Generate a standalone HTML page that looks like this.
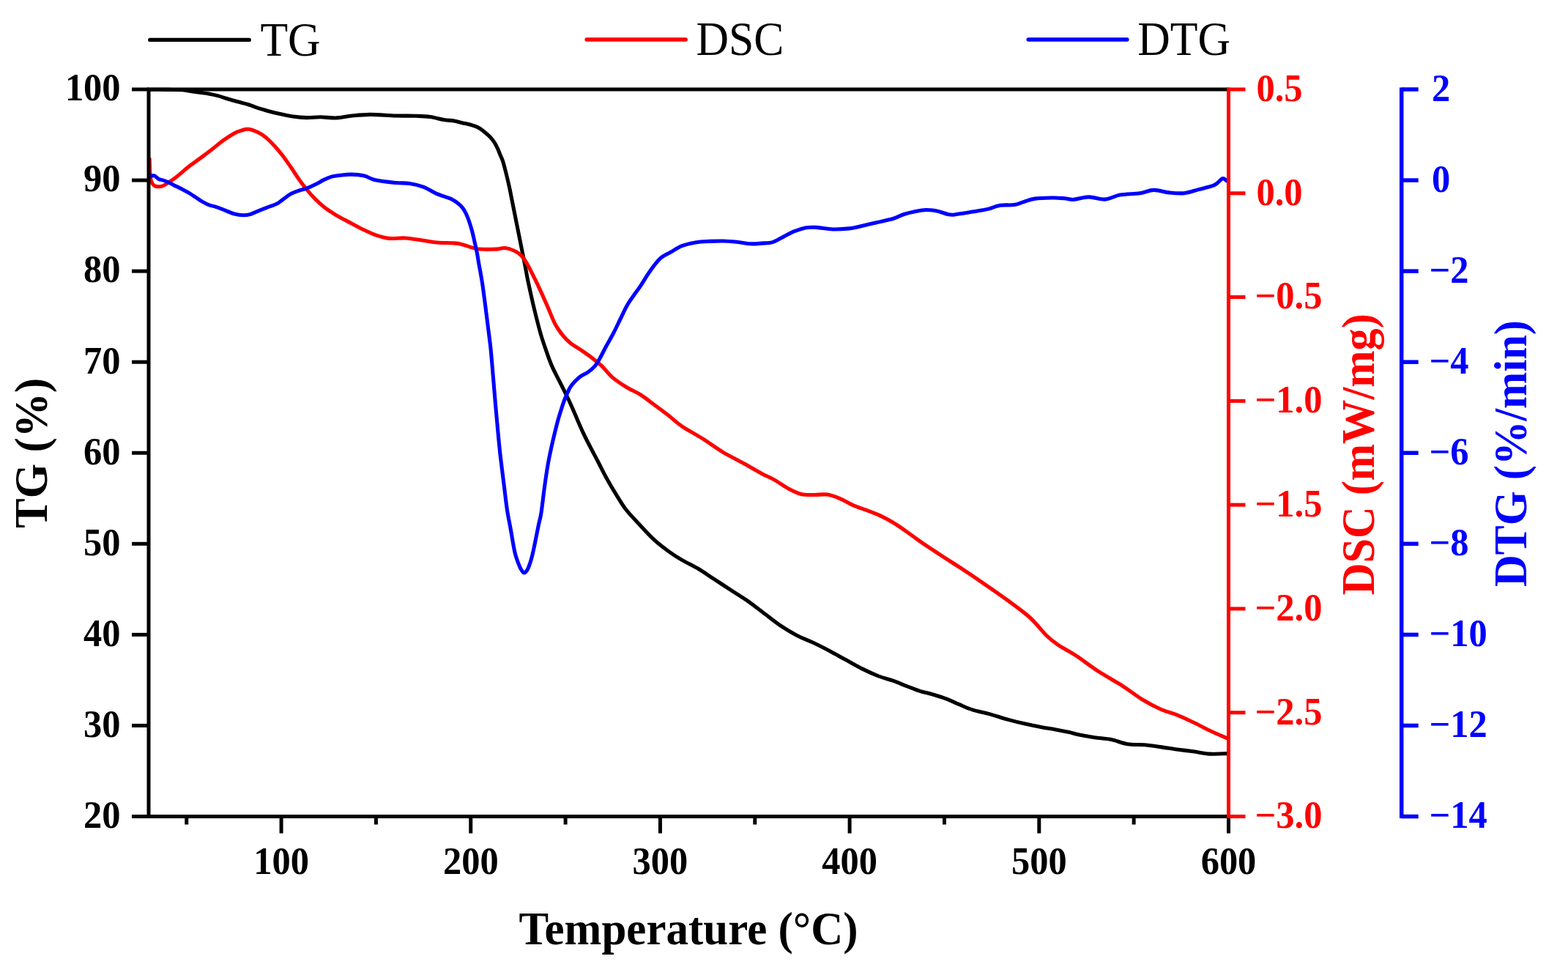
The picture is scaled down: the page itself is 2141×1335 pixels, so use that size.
<!DOCTYPE html><html><head><meta charset="utf-8"><title>TG DSC DTG</title><style>html,body{margin:0;padding:0;background:#fff;overflow:hidden}svg{display:block;filter:blur(0.45px)}text{font-family:"Liberation Serif","Times New Roman",serif}</style></head><body>
<svg width="2141" height="1335" viewBox="0 0 2141 1335">
<rect width="2141" height="1335" fill="#fff"/>
<g stroke-width="5.4" stroke-linecap="round">
<line x1="204.8" y1="54.4" x2="340.2" y2="54.4" stroke="#000"/>
<line x1="801.1" y1="54" x2="936.2" y2="54" stroke="#f00"/>
<line x1="1404.2" y1="54" x2="1538.9" y2="54" stroke="#00f"/>
</g>
<g font-size="61.7" fill="#000">
<text transform="translate(355.4,75.6) scale(1,1.045)">TG</text>
<text transform="translate(950.5,75.3) scale(1,1.045)">DSC</text>
<text transform="translate(1553.3,75.3) scale(1,1.045)">DTG</text>
</g>
<g fill="none" stroke-width="5.1" stroke-linejoin="round" stroke-linecap="round">
<path d="M203.0,122.3 C207.5,122.3 222.3,122.3 230.0,122.4 C237.7,122.5 243.1,122.3 249.0,122.8 C254.9,123.3 261.1,124.7 265.4,125.3 C269.7,125.9 271.7,126.1 275.0,126.5 C278.3,126.9 281.2,127.2 285.0,127.9 C288.8,128.6 293.7,129.7 298.0,130.9 C302.3,132.1 306.6,133.7 311.0,135.0 C315.4,136.3 319.5,137.5 324.3,138.8 C329.1,140.1 335.8,141.7 340.0,143.0 C344.2,144.3 345.7,145.3 349.8,146.7 C353.9,148.1 359.8,149.8 364.8,151.2 C369.8,152.6 374.1,153.7 380.0,155.0 C385.9,156.3 393.6,158.1 400.0,159.0 C406.4,159.9 412.4,160.5 418.7,160.6 C424.9,160.7 430.6,159.8 437.5,159.8 C444.4,159.9 453.0,161.2 459.9,160.9 C466.8,160.7 471.2,159.1 478.7,158.3 C486.2,157.6 494.6,156.5 504.9,156.4 C515.2,156.3 529.8,157.7 540.4,158.0 C551.0,158.3 560.7,158.0 568.5,158.3 C576.3,158.6 581.0,158.7 587.3,159.6 C593.5,160.5 600.5,162.6 606.0,163.5 C611.5,164.4 615.8,164.4 620.0,165.1 C624.2,165.8 627.5,166.8 631.2,167.7 C635.0,168.6 638.8,169.2 642.5,170.3 C646.2,171.4 650.5,172.8 653.7,174.5 C656.9,176.2 659.4,178.4 661.9,180.4 C664.4,182.4 666.6,184.2 668.7,186.4 C670.8,188.7 673.0,191.3 674.7,193.9 C676.5,196.5 677.8,199.3 679.2,202.2 C680.6,205.1 681.7,208.2 682.9,211.2 C684.1,214.2 685.2,215.5 686.6,220.0 C688.0,224.5 689.9,232.0 691.4,238.0 C692.9,244.0 694.3,250.0 695.6,256.0 C696.9,262.0 698.0,268.0 699.2,274.0 C700.4,280.0 701.6,286.0 702.8,292.0 C704.0,298.0 705.2,304.0 706.4,310.0 C707.6,316.0 708.8,321.9 710.0,327.9 C711.2,333.9 712.4,339.9 713.6,345.9 C714.8,351.9 716.1,358.2 717.2,363.9 C718.3,369.6 719.0,374.0 720.2,380.0 C721.4,386.0 723.0,393.2 724.5,400.0 C726.0,406.8 727.0,411.9 729.3,421.0 C731.5,430.1 735.3,445.5 738.0,454.9 C740.7,464.3 742.7,469.9 745.3,477.4 C747.9,484.9 750.4,492.4 753.7,499.9 C757.0,507.4 761.6,515.8 764.9,522.4 C768.2,529.0 770.8,533.9 773.5,539.5 C776.2,545.1 778.6,550.2 781.1,555.9 C783.6,561.6 786.2,567.9 788.8,573.9 C791.4,579.9 794.0,585.9 796.8,591.9 C799.6,597.9 802.6,603.7 805.8,609.8 C808.9,615.9 812.0,621.5 815.7,628.5 C819.4,635.5 823.6,644.4 827.8,652.0 C832.0,659.6 836.4,667.1 840.9,674.3 C845.4,681.5 849.1,688.3 854.5,695.3 C859.9,702.3 866.9,709.3 873.4,716.3 C879.9,723.3 887.1,731.2 893.6,737.2 C900.1,743.2 906.1,747.7 912.4,752.2 C918.6,756.7 924.4,760.5 931.1,764.4 C937.8,768.3 945.2,771.5 952.5,775.8 C959.8,780.1 967.4,785.5 974.9,790.4 C982.4,795.3 989.9,800.2 997.4,805.1 C1004.9,810.0 1012.4,814.5 1019.9,819.7 C1027.4,824.9 1034.9,830.9 1042.4,836.5 C1049.9,842.1 1057.3,848.3 1064.8,853.4 C1072.3,858.5 1079.8,863.0 1087.3,866.9 C1094.8,870.8 1102.3,873.5 1109.8,877.0 C1117.3,880.5 1124.7,884.3 1132.2,888.2 C1139.7,892.1 1147.2,896.5 1154.7,900.6 C1162.2,904.7 1169.7,909.2 1177.2,912.9 C1184.7,916.6 1192.6,920.2 1199.7,923.0 C1206.8,925.8 1213.6,927.1 1220.0,929.4 C1226.4,931.7 1232.0,934.3 1238.0,936.6 C1244.0,938.9 1250.0,941.5 1256.0,943.4 C1262.0,945.3 1267.9,946.2 1273.9,948.0 C1279.9,949.8 1285.9,951.6 1291.9,953.9 C1297.9,956.2 1303.9,959.2 1309.9,961.7 C1315.9,964.2 1320.9,966.7 1327.9,968.9 C1334.9,971.1 1343.9,972.7 1351.9,974.9 C1359.9,977.1 1367.8,979.9 1375.8,982.1 C1383.8,984.3 1391.8,986.3 1399.8,988.1 C1407.8,989.9 1416.8,991.6 1423.8,992.9 C1430.8,994.2 1435.8,994.8 1441.8,995.9 C1447.8,997.0 1454.7,998.4 1459.8,999.5 C1464.9,1000.6 1466.6,1001.6 1472.4,1002.8 C1478.2,1004.0 1487.3,1005.6 1494.8,1006.7 C1502.3,1007.8 1509.8,1008.0 1517.3,1009.5 C1524.8,1011.0 1532.2,1014.5 1539.7,1015.7 C1547.2,1016.9 1554.6,1016.1 1562.1,1016.8 C1569.6,1017.4 1577.0,1018.6 1584.5,1019.6 C1592.0,1020.6 1599.5,1022.0 1607.0,1023.0 C1614.5,1024.0 1621.9,1024.8 1629.4,1025.8 C1636.9,1026.8 1644.0,1028.6 1651.8,1029.1 C1659.6,1029.6 1672.0,1028.7 1676.0,1028.6" stroke="#000"/>
<path d="M204.2,217.0 C204.3,219.5 204.4,227.5 204.6,232.0 C204.8,236.5 205.0,240.9 205.6,244.0 C206.2,247.1 207.0,248.9 208.0,250.5 C209.0,252.1 209.9,253.1 211.5,253.8 C213.1,254.5 215.6,254.9 217.5,254.8 C219.4,254.8 221.1,254.3 223.0,253.5 C224.9,252.7 225.9,252.0 229.1,249.8 C232.3,247.6 237.4,244.2 242.2,240.4 C247.0,236.7 252.4,231.6 257.9,227.3 C263.3,223.1 269.6,218.9 274.9,214.9 C280.2,210.9 284.9,207.4 289.9,203.5 C294.9,199.6 299.9,195.2 304.9,191.6 C309.9,188.0 315.7,184.2 319.9,181.9 C324.1,179.6 326.8,178.9 330.0,178.0 C333.2,177.1 335.2,175.8 339.0,176.3 C342.8,176.8 348.4,178.8 352.5,180.8 C356.6,182.8 360.0,185.0 363.7,188.1 C367.4,191.2 371.1,195.2 374.9,199.3 C378.6,203.4 382.4,207.9 386.2,212.8 C389.9,217.7 393.6,223.1 397.4,228.5 C401.1,233.9 404.9,240.2 408.7,245.4 C412.4,250.7 416.2,255.5 419.9,260.0 C423.6,264.5 427.4,268.6 431.1,272.4 C434.9,276.1 438.6,279.5 442.4,282.5 C446.1,285.5 449.9,287.9 453.6,290.3 C457.3,292.7 460.4,294.7 464.8,297.1 C469.2,299.6 475.2,302.5 480.0,305.0 C484.8,307.5 488.2,309.6 493.6,312.2 C499.0,314.8 506.1,318.5 512.4,320.7 C518.6,322.9 524.2,324.7 531.1,325.4 C538.0,326.1 545.8,324.5 553.6,325.0 C561.4,325.5 570.7,327.2 577.9,328.2 C585.1,329.2 589.6,330.4 596.6,331.0 C603.6,331.6 614.4,331.5 620.0,331.9 C625.6,332.3 626.4,332.5 630.0,333.4 C633.6,334.2 637.8,335.9 641.4,337.0 C645.0,338.1 648.1,339.1 651.4,339.7 C654.7,340.2 657.9,340.2 661.3,340.3 C664.7,340.4 668.9,340.3 672.0,340.2 C675.1,340.1 677.1,340.2 680.0,339.9 C682.9,339.6 686.0,338.1 689.6,338.5 C693.2,338.9 698.0,340.4 701.6,342.0 C705.2,343.6 708.4,345.7 711.2,348.3 C714.0,350.9 716.0,354.0 718.4,357.9 C720.8,361.8 722.9,365.9 725.9,371.9 C728.9,377.9 732.9,385.9 736.6,393.8 C740.3,401.7 744.4,411.0 747.9,419.0 C751.4,427.0 754.4,435.6 757.8,442.0 C761.2,448.4 764.8,453.3 768.3,457.7 C771.8,462.1 774.4,464.7 778.8,468.2 C783.2,471.7 789.4,475.2 794.5,478.7 C799.6,482.2 804.7,485.7 809.2,489.2 C813.8,492.7 817.2,495.3 821.8,499.7 C826.3,504.1 830.9,510.6 836.5,515.4 C842.1,520.2 849.0,524.6 855.4,528.5 C861.8,532.4 868.5,535.0 874.9,539.0 C881.3,543.0 887.4,548.2 893.6,552.8 C899.9,557.4 906.1,562.0 912.4,566.8 C918.6,571.6 923.3,576.5 931.1,581.8 C938.9,587.1 949.8,592.8 959.2,598.7 C968.6,604.6 977.9,611.8 987.3,617.4 C996.7,623.0 1006.6,627.6 1015.4,632.4 C1024.2,637.2 1032.9,642.6 1040.0,646.4 C1047.1,650.2 1052.0,652.0 1058.0,655.4 C1064.0,658.8 1070.0,663.5 1076.0,666.7 C1082.0,669.9 1087.9,673.0 1093.9,674.5 C1099.9,676.0 1105.9,675.4 1111.9,675.5 C1117.9,675.6 1123.9,674.2 1129.9,675.1 C1135.9,676.0 1141.9,678.6 1147.9,681.1 C1153.9,683.6 1159.8,687.5 1165.8,690.1 C1171.8,692.7 1177.8,694.4 1183.8,696.7 C1189.8,699.0 1195.8,701.1 1201.8,703.9 C1207.8,706.7 1213.8,709.9 1219.8,713.5 C1225.8,717.1 1231.7,721.3 1237.7,725.5 C1243.7,729.7 1249.7,734.4 1255.7,738.6 C1261.7,742.8 1268.0,746.8 1273.7,750.6 C1279.4,754.4 1283.7,757.3 1290.0,761.4 C1296.3,765.5 1302.7,769.4 1311.5,775.2 C1320.3,781.0 1332.4,789.1 1342.9,796.3 C1353.4,803.5 1363.9,810.7 1374.4,818.4 C1384.9,826.1 1396.6,834.2 1405.8,842.5 C1415.0,850.8 1422.8,861.6 1429.4,868.0 C1436.0,874.4 1438.6,876.1 1445.2,880.6 C1451.8,885.1 1459.6,888.7 1468.8,894.7 C1478.0,900.7 1489.7,909.9 1500.2,916.7 C1510.7,923.5 1521.7,929.2 1531.7,935.6 C1541.7,942.0 1551.2,949.6 1560.0,955.0 C1568.8,960.4 1576.7,964.5 1584.5,968.0 C1592.3,971.5 1599.5,972.9 1607.0,975.9 C1614.5,978.9 1621.9,982.5 1629.4,986.0 C1636.9,989.5 1644.0,993.5 1651.8,997.2 C1659.6,1000.9 1672.0,1006.2 1676.0,1008.0" stroke="#f00"/>
<path d="M204.5,238.5 C204.8,238.8 205.5,240.2 206.5,240.4 C207.5,240.6 208.9,239.1 210.7,239.8 C212.4,240.5 215.2,243.6 217.0,244.6 C218.8,245.6 219.2,244.9 221.2,245.6 C223.2,246.2 226.5,247.3 229.1,248.5 C231.7,249.7 233.7,250.9 237.0,252.6 C240.3,254.2 245.5,256.6 249.0,258.4 C252.5,260.2 255.0,261.6 258.0,263.4 C261.0,265.2 264.0,267.2 267.0,269.2 C270.0,271.1 273.0,273.4 276.0,275.1 C279.0,276.8 281.9,278.4 284.9,279.6 C287.9,280.8 290.9,281.2 293.9,282.2 C296.9,283.2 299.9,284.3 302.9,285.4 C305.9,286.5 309.0,287.9 311.9,289.0 C314.8,290.1 316.7,291.3 320.0,292.1 C323.3,292.9 328.3,293.7 331.8,293.8 C335.3,293.9 337.8,293.6 341.2,292.6 C344.6,291.7 348.8,289.6 352.5,288.1 C356.2,286.6 359.4,285.3 363.7,283.6 C368.0,281.9 374.6,279.9 378.3,278.0 C382.1,276.1 383.0,274.6 386.2,272.4 C389.4,270.1 393.6,266.6 397.4,264.5 C401.1,262.4 404.9,261.3 408.7,260.0 C412.4,258.7 416.2,258.0 419.9,256.6 C423.6,255.2 427.4,253.5 431.1,251.6 C434.9,249.7 438.6,247.2 442.4,245.4 C446.1,243.6 449.9,241.9 453.6,240.9 C457.3,239.9 460.4,239.7 464.8,239.2 C469.2,238.7 474.6,237.9 480.0,238.1 C485.4,238.2 492.0,238.8 497.4,240.1 C502.8,241.4 505.2,244.2 512.4,245.8 C519.6,247.4 532.6,248.7 540.4,249.5 C548.2,250.3 553.0,249.5 559.2,250.4 C565.5,251.3 571.8,252.8 577.9,255.1 C584.0,257.4 591.0,262.1 596.0,264.4 C601.0,266.6 604.4,267.3 607.9,268.6 C611.4,269.9 613.9,270.5 616.9,272.1 C619.9,273.7 623.4,276.1 625.9,278.1 C628.4,280.1 630.1,281.8 631.9,284.1 C633.7,286.4 635.1,289.0 636.5,292.0 C637.9,295.0 639.2,298.2 640.5,302.0 C641.8,305.8 643.2,310.3 644.5,315.0 C645.8,319.7 646.8,324.8 648.0,330.0 C649.2,335.2 650.5,340.8 651.5,346.0 C652.5,351.2 653.1,356.2 654.0,361.0 C654.9,365.8 655.8,370.2 656.6,375.0 C657.4,379.8 658.0,382.5 659.0,389.7 C660.0,396.9 661.6,408.7 662.8,418.2 C664.0,427.7 665.2,437.1 666.4,446.7 C667.6,456.3 668.8,464.4 670.0,476.0 C671.2,487.6 672.4,503.4 673.5,516.0 C674.6,528.6 675.5,539.9 676.5,551.9 C677.5,563.9 678.6,575.9 679.8,587.9 C680.9,599.9 682.0,611.9 683.4,623.9 C684.8,635.9 686.4,647.9 687.9,659.9 C689.4,671.9 690.8,685.4 692.4,695.8 C694.0,706.1 695.9,714.4 697.2,722.0 C698.6,729.6 699.5,735.5 700.5,741.2 C701.5,746.9 702.4,751.8 703.5,756.2 C704.6,760.6 706.0,764.0 707.2,767.4 C708.5,770.8 709.6,774.0 711.0,776.4 C712.4,778.8 714.0,781.8 715.5,782.0 C717.0,782.2 718.6,780.1 720.0,777.9 C721.4,775.7 722.6,772.1 723.7,768.9 C724.8,765.6 725.7,762.4 726.7,758.4 C727.7,754.4 728.7,749.6 729.7,744.9 C730.7,740.2 731.7,735.0 732.7,730.0 C733.7,725.0 734.7,720.0 735.7,715.0 C736.8,710.0 737.7,708.4 739.0,700.0 C740.3,691.6 742.0,675.8 743.5,664.9 C745.0,654.0 746.5,643.6 748.0,634.9 C749.5,626.1 751.0,619.4 752.5,612.4 C754.0,605.4 755.5,599.1 757.0,592.9 C758.5,586.7 760.0,580.5 761.5,575.0 C763.0,569.5 764.5,564.8 766.0,560.0 C767.5,555.2 769.0,550.5 770.5,546.5 C772.0,542.5 773.4,539.3 775.0,536.0 C776.6,532.7 777.4,529.9 780.0,526.5 C782.6,523.1 786.6,518.5 790.4,515.4 C794.2,512.3 799.2,510.6 802.9,508.0 C806.6,505.4 809.8,502.7 812.4,499.7 C815.0,496.7 816.2,494.1 818.7,489.8 C821.2,485.5 824.0,479.6 827.1,473.8 C830.2,468.0 834.2,461.3 837.5,455.0 C840.8,448.7 843.7,442.3 846.8,436.0 C849.9,429.7 853.1,422.5 856.2,417.0 C859.3,411.5 862.4,407.5 865.5,403.0 C868.6,398.5 871.8,394.6 874.9,389.9 C878.0,385.2 881.2,379.6 884.3,374.9 C887.4,370.2 890.5,365.7 893.6,361.8 C896.7,357.9 899.2,354.5 903.0,351.5 C906.8,348.5 911.4,346.6 916.1,344.0 C920.8,341.4 925.5,337.8 931.1,335.6 C936.7,333.4 943.6,331.9 949.8,330.9 C956.0,329.9 962.2,329.7 968.5,329.4 C974.8,329.1 981.0,328.9 987.3,329.0 C993.5,329.1 999.8,329.7 1006.0,330.3 C1012.2,330.9 1019.0,332.5 1024.7,332.8 C1030.4,333.1 1035.0,332.5 1040.0,332.1 C1045.0,331.7 1049.9,332.1 1054.9,330.6 C1059.9,329.1 1064.9,325.6 1069.9,323.1 C1074.9,320.6 1079.8,317.7 1084.8,315.7 C1089.8,313.7 1094.8,311.8 1099.8,310.9 C1104.8,310.0 1108.5,310.0 1114.7,310.4 C1120.9,310.8 1129.7,312.8 1137.2,313.0 C1144.7,313.2 1153.4,312.6 1159.6,311.9 C1165.8,311.2 1168.3,310.3 1174.5,308.9 C1180.7,307.5 1189.5,305.4 1197.0,303.7 C1204.5,302.0 1213.2,300.4 1219.4,298.5 C1225.6,296.6 1229.3,294.1 1234.3,292.5 C1239.3,290.9 1244.3,289.8 1249.3,288.8 C1254.3,287.8 1259.2,286.6 1264.2,286.5 C1269.2,286.4 1274.2,287.0 1279.2,288.0 C1284.2,289.0 1290.4,291.6 1294.1,292.5 C1297.8,293.4 1297.9,293.4 1301.6,293.2 C1305.3,292.9 1310.3,292.0 1316.5,291.0 C1322.7,290.0 1333.4,288.3 1339.0,287.3 C1344.6,286.3 1345.5,286.3 1350.0,285.1 C1354.5,283.9 1360.1,281.2 1365.9,280.3 C1371.7,279.4 1379.6,280.4 1384.9,279.6 C1390.2,278.8 1392.8,277.0 1397.6,275.6 C1402.4,274.2 1406.9,272.0 1413.5,271.1 C1420.1,270.2 1430.7,270.1 1437.3,270.0 C1443.9,269.9 1448.4,270.4 1453.2,270.8 C1458.0,271.2 1460.3,272.7 1465.9,272.4 C1471.5,272.1 1479.4,268.9 1486.6,268.9 C1493.8,268.8 1501.7,272.6 1508.8,272.1 C1515.9,271.6 1521.5,267.5 1529.4,266.1 C1537.3,264.7 1548.7,264.8 1556.4,263.7 C1564.1,262.6 1568.9,259.5 1575.5,259.4 C1582.1,259.3 1589.2,262.2 1596.1,262.9 C1603.0,263.6 1610.2,264.4 1616.8,263.7 C1623.4,263.0 1628.9,260.8 1635.8,258.9 C1642.7,257.0 1652.5,255.1 1658.1,252.6 C1663.7,250.1 1666.4,244.7 1669.2,243.8 C1672.0,242.9 1674.0,246.5 1675.0,247.0" stroke="#00f"/>
</g>
<g stroke="#000" stroke-width="5" fill="none">
<path d="M203.0,1114.5 V122.0 H1677.5"/>
<line x1="180.0" y1="1114.5" x2="1677.5" y2="1114.5"/>
<line x1="180.0" y1="1114.50" x2="203.0" y2="1114.50"/>
<line x1="180.0" y1="990.44" x2="203.0" y2="990.44"/>
<line x1="180.0" y1="866.38" x2="203.0" y2="866.38"/>
<line x1="180.0" y1="742.31" x2="203.0" y2="742.31"/>
<line x1="180.0" y1="618.25" x2="203.0" y2="618.25"/>
<line x1="180.0" y1="494.19" x2="203.0" y2="494.19"/>
<line x1="180.0" y1="370.12" x2="203.0" y2="370.12"/>
<line x1="180.0" y1="246.06" x2="203.0" y2="246.06"/>
<line x1="180.0" y1="122.00" x2="203.0" y2="122.00"/>
<line x1="384.08" y1="1114.5" x2="384.08" y2="1137.5"/>
<line x1="642.76" y1="1114.5" x2="642.76" y2="1137.5"/>
<line x1="901.45" y1="1114.5" x2="901.45" y2="1137.5"/>
<line x1="1160.13" y1="1114.5" x2="1160.13" y2="1137.5"/>
<line x1="1418.82" y1="1114.5" x2="1418.82" y2="1137.5"/>
<line x1="1677.50" y1="1114.5" x2="1677.50" y2="1137.5"/>
<line x1="254.74" y1="1114.5" x2="254.74" y2="1125.5"/>
<line x1="513.42" y1="1114.5" x2="513.42" y2="1125.5"/>
<line x1="772.11" y1="1114.5" x2="772.11" y2="1125.5"/>
<line x1="1030.79" y1="1114.5" x2="1030.79" y2="1125.5"/>
<line x1="1289.47" y1="1114.5" x2="1289.47" y2="1125.5"/>
<line x1="1548.16" y1="1114.5" x2="1548.16" y2="1125.5"/>
</g>
<g stroke="#f00" stroke-width="5" fill="none">
<line x1="1677.5" y1="119.5" x2="1677.5" y2="1117.0"/>
<line x1="1677.5" y1="122.00" x2="1700.5" y2="122.00"/>
<line x1="1677.5" y1="263.79" x2="1700.5" y2="263.79"/>
<line x1="1677.5" y1="405.57" x2="1700.5" y2="405.57"/>
<line x1="1677.5" y1="547.36" x2="1700.5" y2="547.36"/>
<line x1="1677.5" y1="689.14" x2="1700.5" y2="689.14"/>
<line x1="1677.5" y1="830.93" x2="1700.5" y2="830.93"/>
<line x1="1677.5" y1="972.71" x2="1700.5" y2="972.71"/>
<line x1="1677.5" y1="1114.50" x2="1700.5" y2="1114.50"/>
</g>
<g stroke="#00f" stroke-width="5.5" fill="none">
<line x1="1913.7" y1="119.5" x2="1913.7" y2="1117.0"/>
<line x1="1913.7" y1="122.00" x2="1936.7" y2="122.00"/>
<line x1="1913.7" y1="246.06" x2="1936.7" y2="246.06"/>
<line x1="1913.7" y1="370.12" x2="1936.7" y2="370.12"/>
<line x1="1913.7" y1="494.19" x2="1936.7" y2="494.19"/>
<line x1="1913.7" y1="618.25" x2="1936.7" y2="618.25"/>
<line x1="1913.7" y1="742.31" x2="1936.7" y2="742.31"/>
<line x1="1913.7" y1="866.38" x2="1936.7" y2="866.38"/>
<line x1="1913.7" y1="990.44" x2="1936.7" y2="990.44"/>
<line x1="1913.7" y1="1114.50" x2="1936.7" y2="1114.50"/>
</g>
<g font-size="50.5" font-weight="bold">
<text transform="translate(164.6,1129.8) scale(1,1.04)" text-anchor="end">20</text>
<text transform="translate(164.6,1005.7) scale(1,1.04)" text-anchor="end">30</text>
<text transform="translate(164.6,881.7) scale(1,1.04)" text-anchor="end">40</text>
<text transform="translate(164.6,757.6) scale(1,1.04)" text-anchor="end">50</text>
<text transform="translate(164.6,633.5) scale(1,1.04)" text-anchor="end">60</text>
<text transform="translate(164.6,509.5) scale(1,1.04)" text-anchor="end">70</text>
<text transform="translate(164.6,385.4) scale(1,1.04)" text-anchor="end">80</text>
<text transform="translate(164.6,261.4) scale(1,1.04)" text-anchor="end">90</text>
<text transform="translate(164.6,137.3) scale(1,1.04)" text-anchor="end">100</text>
<text transform="translate(384.1,1192.5) scale(1,1.04)" text-anchor="middle">100</text>
<text transform="translate(642.8,1192.5) scale(1,1.04)" text-anchor="middle">200</text>
<text transform="translate(901.4,1192.5) scale(1,1.04)" text-anchor="middle">300</text>
<text transform="translate(1160.1,1192.5) scale(1,1.04)" text-anchor="middle">400</text>
<text transform="translate(1418.8,1192.5) scale(1,1.04)" text-anchor="middle">500</text>
<text transform="translate(1677.5,1192.5) scale(1,1.04)" text-anchor="middle">600</text>
</g>
<g font-size="50.5" font-weight="bold" fill="#f00">
<text transform="translate(1715.5,137.8) scale(1,1.04)">0.5</text>
<text transform="translate(1715.5,279.6) scale(1,1.04)">0.0</text>
<text transform="translate(1713.5,421.4) scale(1,1.04)">−0.5</text>
<text transform="translate(1713.5,563.2) scale(1,1.04)">−1.0</text>
<text transform="translate(1713.5,704.9) scale(1,1.04)">−1.5</text>
<text transform="translate(1713.5,846.7) scale(1,1.04)">−2.0</text>
<text transform="translate(1713.5,988.5) scale(1,1.04)">−2.5</text>
<text transform="translate(1713.5,1130.3) scale(1,1.04)">−3.0</text>
</g>
<g font-size="50.5" font-weight="bold" fill="#00f">
<text transform="translate(1955.0,137.8) scale(1,1.04)">2</text>
<text transform="translate(1955.0,261.9) scale(1,1.04)">0</text>
<text transform="translate(1951.5,385.9) scale(1,1.04)">−2</text>
<text transform="translate(1951.5,510.0) scale(1,1.04)">−4</text>
<text transform="translate(1951.5,634.0) scale(1,1.04)">−6</text>
<text transform="translate(1951.5,758.1) scale(1,1.04)">−8</text>
<text transform="translate(1951.5,882.2) scale(1,1.04)">−10</text>
<text transform="translate(1951.5,1006.2) scale(1,1.04)">−12</text>
<text transform="translate(1951.5,1130.3) scale(1,1.04)">−14</text>
</g>
<g font-size="61" font-weight="bold">
<text transform="translate(940,1288.7) scale(1,1.045)" text-anchor="middle">Temperature (°C)</text>
<text transform="translate(64,618.4) rotate(-90) scale(1,1.03)" text-anchor="middle">TG (%)</text>
<text transform="translate(1876,620.2) rotate(-90) scale(0.99,1.03)" text-anchor="middle" fill="#f00">DSC (mW/mg)</text>
<text transform="translate(2083.5,619.1) rotate(-90) scale(0.99,1.03)" text-anchor="middle" fill="#00f">DTG (%/min)</text>
</g>
</svg></body></html>
